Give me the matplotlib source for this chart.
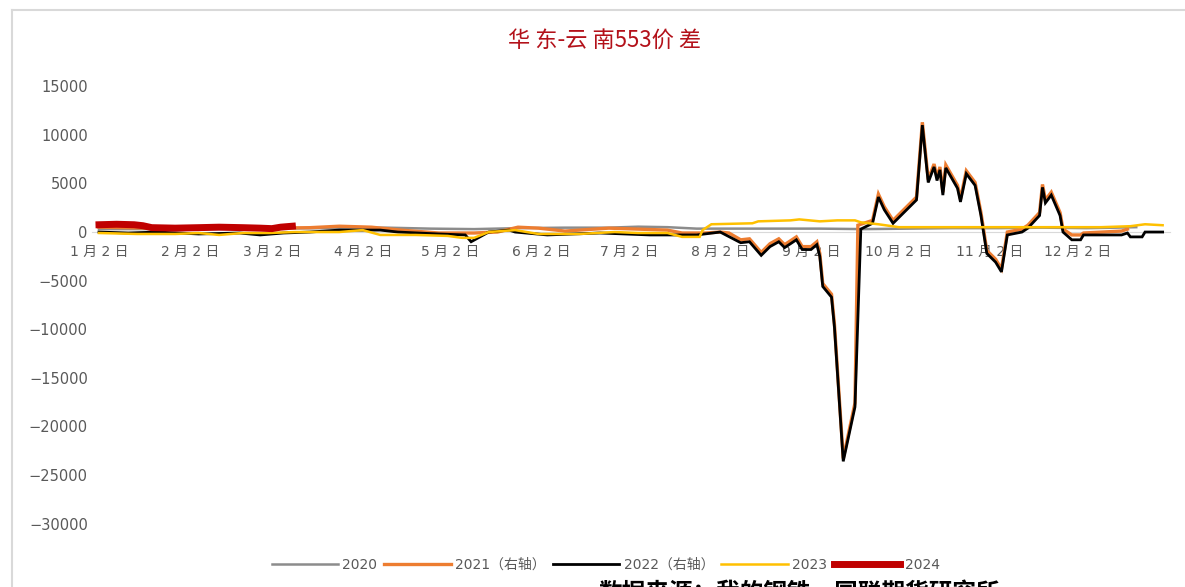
import pandas as pd
import matplotlib
matplotlib.use("Agg")
import matplotlib.pyplot as plt
from matplotlib.lines import Line2D

plt.rcParams['font.family'] = ['DejaVu Sans', 'Noto Sans CJK SC']

# ---- data, dates as MM-DD ----
d2020 = ["01-02", "02-01", "03-01", "03-20", "04-10", "04-25", "05-10", "05-25", "06-10",
         "06-25", "07-05", "07-15", "07-25", "08-05", "08-20", "09-05", "09-20", "10-05",
         "10-20", "11-05", "11-20", "12-05", "12-15", "12-22"]
v2020 = [300, 300, 350, 400, 450, 350, 300, 400, 450, 450, 550, 500, 350, 350, 350, 350,
         300, 350, 400, 400, 450, 400, 450, 500]

d2021 = ["01-02", "01-20", "02-10", "03-01", "03-15", "03-25", "04-05", "04-15", "04-28",
         "05-10", "05-18", "05-25", "06-01", "06-10", "06-25", "07-05", "07-15", "07-20",
         "07-28", "08-02", "08-05", "08-09", "08-12", "08-16", "08-19", "08-22", "08-24",
         "08-28", "08-30", "09-02", "09-04", "09-05", "09-06", "09-09", "09-10", "09-13",
         "09-17", "09-18", "09-23", "09-25", "09-27", "09-30", "10-08", "10-10", "10-12",
         "10-14", "10-15", "10-16", "10-17", "10-18", "10-22", "10-23", "10-25", "10-28",
         "10-30", "11-01", "11-04", "11-06", "11-08", "11-13", "11-15", "11-19", "11-20",
         "11-21", "11-23", "11-26", "11-27", "11-30", "12-03", "12-04", "12-17", "12-19"]
v2021 = [500, 400, 400, 400, 450, 600, 500, 200, -100, -100, 0, 500, 400, 100, 400, 300,
         200, -100, -100, 0, -100, -800, -700, -2100, -1200, -700, -1300, -500, -1500,
         -1500, -1000, -2200, -5300, -6400, -9500, -23300, -17600, 700, 1200, 3900, 2600,
         1200, 3600, 11300, 5400, 7000, 5600, 6700, 4100, 6900, 4800, 3400, 6300, 5100,
         2000, -1900, -2800, -3800, 0, 300, 700, 2000, 4900, 3300, 4100, 2000, 300, -300,
         -300, -100, 100, 300]

d2022 = ["01-02", "01-12", "01-22", "02-05", "02-19", "02-26", "03-06", "03-15", "03-25",
         "04-08", "04-14", "04-28", "05-07", "05-09", "05-12", "05-15", "05-22", "05-24",
         "06-04", "06-22", "07-09", "07-25", "08-02", "08-09", "08-12", "08-16", "08-19",
         "08-22", "08-24", "08-28", "08-30", "09-02", "09-04", "09-05", "09-06", "09-09",
         "09-10", "09-13", "09-17", "09-19", "09-23", "09-25", "09-27", "09-30", "10-08",
         "10-10", "10-12", "10-14", "10-15", "10-16", "10-17", "10-18", "10-22", "10-23",
         "10-25", "10-28", "10-30", "11-01", "11-04", "11-06", "11-08", "11-13", "11-15",
         "11-19", "11-20", "11-21", "11-23", "11-26", "11-27", "11-30", "12-03", "12-04",
         "12-17", "12-19", "12-20", "12-24", "12-25", "12-31"]
v2022 = [0, -100, 0, -200, -100, -300, -100, 0, 200, 200, 0, -200, -300, -1000, -500, 0,
         200, 0, -300, -100, -300, -300, 0, -1100, -1000, -2400, -1500, -1000, -1600, -800,
         -1800, -1800, -1300, -2500, -5600, -6700, -9800, -23600, -18000, 300, 900, 3600,
         2300, 900, 3300, 11000, 5100, 6700, 5300, 6400, 3800, 6600, 4500, 3100, 6000, 4800,
         1700, -2200, -3100, -4100, -300, 0, 400, 1700, 4600, 3000, 3800, 1700, 0, -800,
         -800, -300, -300, -100, -500, -500, 0, 0]

d2023 = ["01-02", "01-15", "01-28", "02-05", "02-12", "02-20", "03-01", "03-10", "03-25",
         "04-02", "04-08", "04-20", "05-01", "05-06", "05-10", "05-15", "05-24", "06-01",
         "06-15", "06-27", "07-05", "07-15", "07-20", "07-26", "07-27", "07-30", "08-13",
         "08-15", "08-26", "08-29", "09-05", "09-11", "09-17", "09-19", "09-25", "10-02",
         "10-20", "11-15", "12-10", "12-20", "12-25", "12-31"]
v2023 = [-100, -200, -200, -100, -300, -100, -100, 0, 0, 200, -300, -300, -400, -600,
         -600, 0, 200, -200, -200, 0, -100, -100, -500, -500, 200, 800, 900, 1100, 1200,
         1300, 1100, 1200, 1200, 1000, 800, 500, 500, 500, 500, 600, 800, 700]

d2024 = ["01-02", "01-08", "01-14", "01-17", "01-20", "01-28", "02-05", "02-12", "02-20",
         "02-26", "03-02", "03-05", "03-09"]
v2024 = [750, 800, 750, 650, 450, 400, 450, 500, 450, 400, 350, 500, 600]

series_names = ["2020", "2021（右轴）", "2022（右轴）", "2023", "2024"]
series_dates = [d2020, d2021, d2022, d2023, d2024]
series_vals = [v2020, v2021, v2022, v2023, v2024]
colors = ["#8c8c8c", "#ed7d31", "#000000", "#ffc000", "#c00000"]
widths = [1.8, 2.4, 2.0, 1.8, 5.0]

tick_months = list(range(1, 13))


def to_day(dates):
    # day offset from Jan 1 in a non-leap reference year
    return (pd.to_datetime(["2023-" + d for d in dates]).dayofyear - 1).to_numpy()


fig = plt.figure(figsize=(11.85, 5.87), dpi=100)
ax = fig.add_axes([0.0776, 0.075, 0.9097, 0.8194])

for name, dates, vals, c, lw in zip(series_names, series_dates, series_vals, colors, widths):
    ax.plot(to_day(dates), vals, color=c, lw=lw, label=name, solid_joinstyle='miter')

ax.set_xlim(-1.4, 366.5)
ax.set_ylim(-32000, 17500)
ax.set_yticks(range(-30000, 15001, 5000))
ax.tick_params(axis='y', length=0, pad=3, labelsize=10.5, labelcolor='#595959')

ax.set_xticks(to_day([f"{m:02d}-02" for m in tick_months]))
ax.set_xticklabels([f"{m} 月 2 日" for m in tick_months],
                   family=['Noto Sans CJK SC', 'DejaVu Sans'])
ax.tick_params(axis='x', length=0, pad=9, labelsize=10, labelcolor='#595959')

for s in ['top', 'right', 'left']:
    ax.spines[s].set_visible(False)
ax.spines['bottom'].set_position(('data', 0))
ax.spines['bottom'].set_color('#d9d9d9')
ax.spines['bottom'].set_zorder(0)

fig.text(0.51, 0.932, "华 东-云 南553价 差", ha='center', va='center', fontsize=16,
         color='#b3111a', family=['Noto Sans CJK SC', 'DejaVu Sans'])

leg = fig.legend(loc='center', bbox_to_anchor=(0.511, 0.0375), ncol=5, frameon=False,
                 handlelength=4.8, handletextpad=0.3, columnspacing=0.5,
                 prop={'family': ['DejaVu Sans', 'Noto Sans CJK SC'], 'size': 10})
for t in leg.get_texts():
    t.set_color('#595959')

fig.text(0.505, 0.011, "数据来源：我的钢铁、国联期货研究所", ha='left', va='top',
         fontsize=17, fontweight='bold', color='#000000',
         family=['Noto Sans CJK SC', 'DejaVu Sans'])

# outer frame (left and top edges visible in the reference)
fig.add_artist(Line2D([12 / 1185, 12 / 1185], [0, 1 - 10 / 587],
                      transform=fig.transFigure, color='#d9d9d9', lw=1.5))
fig.add_artist(Line2D([12 / 1185, 1], [1 - 10 / 587, 1 - 10 / 587],
                      transform=fig.transFigure, color='#d9d9d9', lw=1.5))

fig.savefig("out.png", dpi=100)
